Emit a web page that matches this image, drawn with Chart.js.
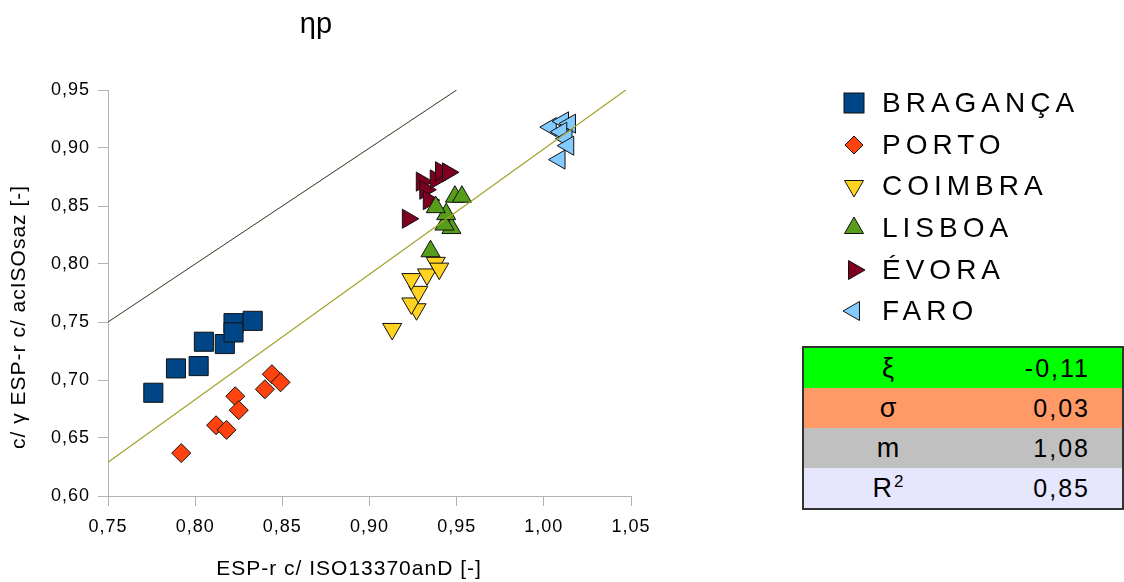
<!DOCTYPE html>
<html>
<head>
<meta charset="utf-8">
<script src="https://cdn.jsdelivr.net/npm/chart.js@4.4.1/dist/chart.umd.min.js"></script>
<style>
  html, body { margin: 0; padding: 0; background: #fff; }
  #wrap { position: relative; width: 1124px; height: 582px; font-family: "Liberation Sans", Arial, sans-serif; color: #000; }
  #chart { position: absolute; left: 0; top: 0; }
  #title { position: absolute; left: 266px; width: 100px; top: 7px; text-align: center; font-size: 29px; }
  #legend { position: absolute; left: 840px; top: 82px; }
  .item { height: 41.7px; display: flex; align-items: center; font-size: 28px; letter-spacing: 5px; white-space: nowrap; }
  .item svg { width: 28px; height: 28px; margin-right: 14px; }
  #stats { position: absolute; left: 802px; top: 346px; width: 318px; border: 2px solid #333; }
  .row { height: 40px; display: flex; align-items: center; font-size: 25px; letter-spacing: 2px; }
  .row .sym { width: 170px; text-align: center; font-size: 27px; }
  .row .val { flex: 1; text-align: right; padding-right: 32px; }
</style>
</head>
<body>
<div id="wrap">
  <canvas id="chart" width="1124" height="582"></canvas>
  <div id="title">ηp</div>
  <div id="legend"></div>
  <div id="stats"></div>
</div>
<script>
// axis ticks
const xTickValues = [0.75, 0.80, 0.85, 0.90, 0.95, 1.00, 1.05];
const yTickValues = [0.60, 0.65, 0.70, 0.75, 0.80, 0.85, 0.90, 0.95];

// points per city, [x, y]
const braganca = [[0.776, 0.689], [0.789, 0.710], [0.802, 0.712], [0.805, 0.733], [0.817, 0.731], [0.822, 0.749], [0.822, 0.741], [0.833, 0.751]];
const porto = [[0.792, 0.637], [0.812, 0.661], [0.818, 0.657], [0.823, 0.686], [0.825, 0.674], [0.840, 0.692], [0.844, 0.705], [0.849, 0.698]];
const coimbra = [[0.913, 0.744], [0.927, 0.761], [0.924, 0.766], [0.928, 0.776], [0.924, 0.787], [0.933, 0.791], [0.938, 0.801], [0.940, 0.796]];
const lisboa = [[0.935, 0.811], [0.947, 0.831], [0.943, 0.834], [0.944, 0.843], [0.938, 0.849], [0.949, 0.858], [0.953, 0.858]];
const evora = [[0.922, 0.839], [0.930, 0.871], [0.932, 0.864], [0.934, 0.855], [0.938, 0.873], [0.941, 0.880], [0.945, 0.879]];
const faro = [[1.004, 0.918], [1.011, 0.923], [1.015, 0.921], [1.010, 0.914], [1.013, 0.908], [1.014, 0.902], [1.009, 0.890]];

// reference lines
const lineOneToOne = [[0.75, 0.75], [0.95, 0.95]];
const lineFit = [[0.75, 0.629], [1.047, 0.95]];

// stats table
const statNames = ['ξ', 'σ', 'm', 'R<sup style="font-size:17px">2</sup>'];
const statValues = ['-0,11', '0,03', '1,08', '0,85'];
const statColors = ['#00ff00', '#ff9966', '#c0c0c0', '#e6e6ff'];

const cities = [
    { label: 'BRAGANÇA', data: braganca, color: '#004586', style: 'rect', radius: 13.5, rotation: 0 },
    { label: 'PORTO', data: porto, color: '#ff420e', style: 'rectRot', radius: 9.5, rotation: 0 },
    { label: 'COIMBRA', data: coimbra, color: '#ffd320', style: 'triangle', radius: 11, rotation: 180 },
    { label: 'LISBOA', data: lisboa, color: '#579d1c', style: 'triangle', radius: 11, rotation: 0 },
    { label: 'ÉVORA', data: evora, color: '#7e0021', style: 'triangle', radius: 11, rotation: 90 },
    { label: 'FARO', data: faro, color: '#83caff', style: 'triangle', radius: 11, rotation: 270 }
];

function toXY(arr) {
    return arr.map(p => ({ x: p[0], y: p[1] }));
}

function fmt(v) {
    return v.toFixed(2).replace('.', ',');
}

const datasets = cities.map(c => ({
    label: c.label,
    data: toXY(c.data),
    backgroundColor: c.color,
    borderColor: '#111',
    borderWidth: 1,
    pointStyle: c.style,
    pointRadius: c.radius,
    rotation: c.rotation,
    showLine: false
}));

datasets.push({
    label: '1:1',
    data: toXY(lineOneToOne),
    showLine: true,
    borderColor: '#33331a',
    borderWidth: 1,
    pointRadius: 0,
    order: -1
});
datasets.push({
    label: 'fit',
    data: toXY(lineFit),
    showLine: true,
    borderColor: '#a3a12a',
    borderWidth: 1.2,
    pointRadius: 0,
    order: -1
});

// a little extra spacing in the canvas text, like the original render
const spacing = {
    id: 'spacing',
    beforeDraw(chart) { chart.ctx.letterSpacing = '1px'; },
    afterDraw(chart) { chart.ctx.letterSpacing = '0px'; }
};

const axisColor = '#b3b3b3';
const font = { family: '"Liberation Sans", Arial, sans-serif' };
const pad = n => '\u00a0'.repeat(n);   // titles sit a bit off the plot centre

new Chart(document.getElementById('chart'), {
    type: 'scatter',
    data: { datasets: datasets },
    options: {
        responsive: false,
        animation: false,
        devicePixelRatio: 1,
        layout: { padding: { left: 0, top: 90, right: 493, bottom: 0 } },
        plugins: { legend: { display: false }, tooltip: { enabled: false } },
        scales: {
            x: {
                type: 'linear',
                min: 0.75,
                max: 1.05,
                afterBuildTicks: s => { s.ticks = xTickValues.map(v => ({ value: v })); },
                afterFit: s => { s.height = 86; },
                ticks: { callback: v => fmt(v), color: '#000', padding: 10, maxRotation: 0,
                         font: { ...font, size: 18 } },
                grid: { drawOnChartArea: false, color: axisColor, tickLength: 10 },
                border: { color: axisColor },
                title: { display: true, text: 'ESP-r c/ ISO13370anD [-]' + pad(6), color: '#000',
                         font: { ...font, size: 21 }, padding: { top: 0, bottom: 0 } }
            },
            y: {
                type: 'linear',
                min: 0.60,
                max: 0.95,
                afterBuildTicks: s => { s.ticks = yTickValues.map(v => ({ value: v })); },
                afterFit: s => { s.width = 108; },
                ticks: { callback: v => fmt(v), color: '#000', padding: 8,
                         font: { ...font, size: 18 } },
                grid: { drawOnChartArea: false, color: axisColor, tickLength: 10 },
                border: { color: axisColor },
                title: { display: true, text: 'c/ γ ESP-r c/ acISOsaz [-]' + pad(7), color: '#000',
                         font: { ...font, size: 21 }, padding: { top: 7, bottom: 0 } }
            }
        }
    },
    plugins: [spacing]
});

// legend markers, same shapes as the points
function markerSvg(c) {
    const fill = c.color;
    let shape;
    if (c.style === 'rect') {
        shape = `<rect x="4" y="4" width="20" height="20" fill="${fill}" stroke="#111"/>`;
    } else if (c.style === 'rectRot') {
        shape = `<polygon points="14,5 23,14 14,23 5,14" fill="${fill}" stroke="#111"/>`;
    } else {
        shape = `<polygon points="14,3 23.5,19.5 4.5,19.5" fill="${fill}" stroke="#111" transform="rotate(${c.rotation} 14 14)"/>`;
    }
    return `<svg viewBox="0 0 28 28">${shape}</svg>`;
}

document.getElementById('legend').innerHTML = cities.map(c =>
    `<div class="item">${markerSvg(c)}<span>${c.label}</span></div>`).join('');

document.getElementById('stats').innerHTML = statNames.map((n, i) =>
    `<div class="row" style="background:${statColors[i]}"><span class="sym">${n}</span><span class="val">${statValues[i]}</span></div>`).join('');
</script>
</body>
</html>
